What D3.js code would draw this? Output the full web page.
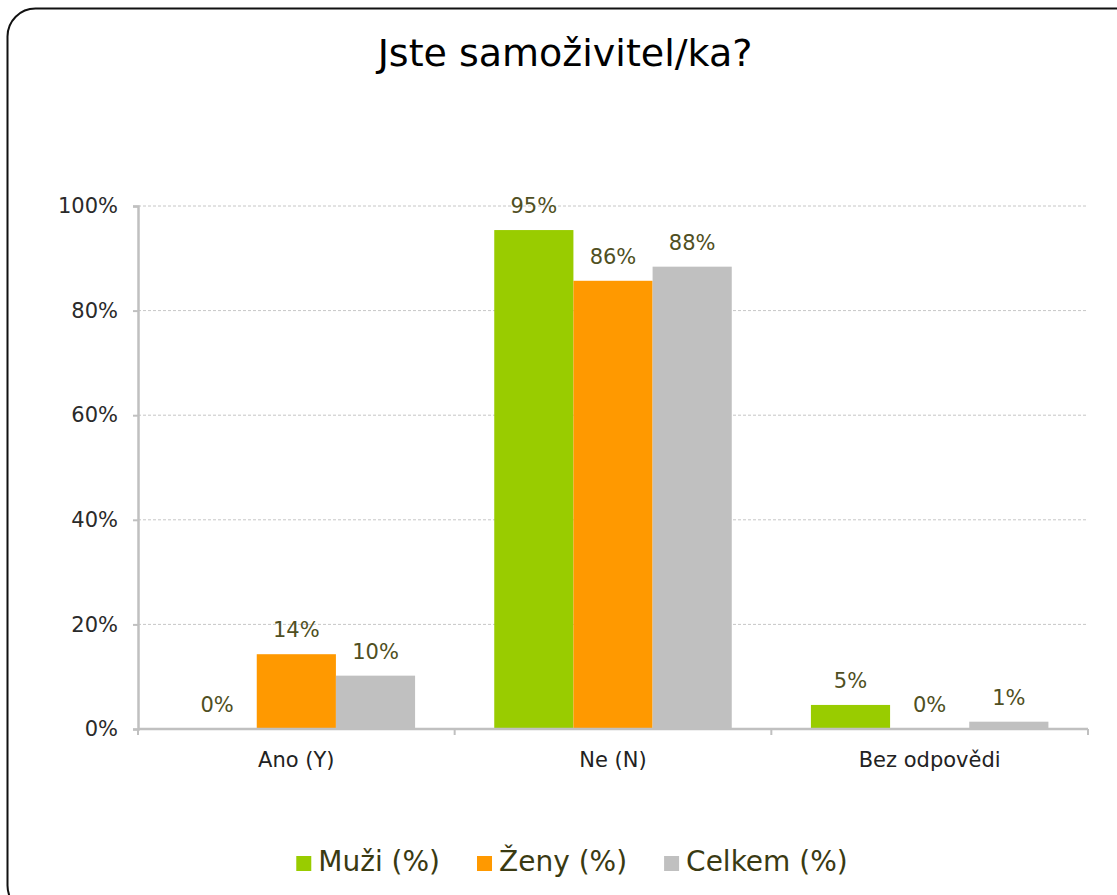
<!DOCTYPE html>
<html>
<head>
<meta charset="utf-8">
<script src="https://cdn.jsdelivr.net/npm/d3@7"></script>
<style>
  body { margin: 0; background: #fff; }
  svg { display: block; font-family: "DejaVu Sans", Verdana, sans-serif; }
</style>
</head>
<body>
<div id="chart"></div>
<script>
// chart data
const title = "Jste samoživitel/ka?";
const categories = ["Ano (Y)", "Ne (N)", "Bez odpovědi"];
const seriesNames = ["Muži (%)", "Ženy (%)", "Celkem (%)"];
const muzi = [0, 95.4, 4.6];
const zeny = [14.3, 85.7, 0];
const celkem = [10.2, 88.4, 1.4];
const yTicks = [0, 20, 40, 60, 80, 100];
const colors = ["#99cc00", "#ff9900", "#c0c0c0"];

const seriesValues = [muzi, zeny, celkem];

const width = 1117, height = 895;
const margin = { top: 206, right: 29, bottom: 166, left: 138 };
const plotW = width - margin.left - margin.right;
const plotH = height - margin.top - margin.bottom;

const svg = d3.select("#chart").append("svg")
    .attr("width", width)
    .attr("height", height);

// outer frame with rounded corners (cut off at right / bottom)
svg.append("rect")
    .attr("x", 7.5).attr("y", 8.5)
    .attr("width", 1140).attr("height", 905)
    .attr("rx", 28).attr("ry", 28)
    .attr("fill", "#fff")
    .attr("stroke", "#111")
    .attr("stroke-width", 2);

svg.append("text")
    .attr("x", 565).attr("y", 66)
    .attr("text-anchor", "middle")
    .attr("font-size", 38)
    .attr("fill", "#000")
    .text(title);

const g = svg.append("g")
    .attr("transform", "translate(" + margin.left + "," + margin.top + ")");

const x0 = d3.scaleBand()
    .domain(categories)
    .range([0, plotW]);

const x1 = d3.scaleBand()
    .domain(seriesNames)
    .range([x0.bandwidth() * 0.125, x0.bandwidth() * 0.875]);

const y = d3.scaleLinear()
    .domain([0, 100])
    .range([plotH, 0]);

// gridlines
g.selectAll(".grid")
  .data(yTicks.filter(d => d > 0))
  .enter().append("line")
    .attr("class", "grid")
    .attr("x1", 0).attr("x2", plotW)
    .attr("y1", d => y(d)).attr("y2", d => y(d))
    .attr("stroke", "#c6c6c6")
    .attr("stroke-width", 1)
    .attr("stroke-dasharray", "3,2");

// y axis
const yAxis = d3.axisLeft(y)
    .tickValues(yTicks)
    .tickSize(5)
    .tickPadding(15)
    .tickFormat(d => d + "%");

const yAxisG = g.append("g").call(yAxis);
yAxisG.select(".domain").attr("stroke", "#c0c0c0").attr("stroke-width", 2.5);
yAxisG.selectAll(".tick line").attr("stroke", "#c0c0c0").attr("stroke-width", 2);
yAxisG.selectAll(".tick text")
    .attr("font-size", 21)
    .attr("fill", "#2a2a2a")
    .attr("font-family", "DejaVu Sans, Verdana, sans-serif");

// bars
const rows = categories.map((c, i) => ({
  category: c,
  values: seriesNames.map((s, j) => ({ series: s, value: seriesValues[j][i], color: colors[j] }))
}));

const groups = g.selectAll(".group")
  .data(rows)
  .enter().append("g")
    .attr("class", "group")
    .attr("transform", d => "translate(" + x0(d.category) + ",0)");

groups.selectAll("rect")
  .data(d => d.values)
  .enter().append("rect")
    .attr("x", d => x1(d.series))
    .attr("y", d => y(d.value))
    .attr("width", x1.bandwidth())
    .attr("height", d => plotH - y(d.value))
    .attr("fill", d => d.color);

groups.selectAll(".lbl")
  .data(d => d.values)
  .enter().append("text")
    .attr("class", "lbl")
    .attr("x", d => x1(d.series) + x1.bandwidth() / 2)
    .attr("y", d => y(d.value) - 17)
    .attr("text-anchor", "middle")
    .attr("font-size", 21)
    .attr("fill", "#4f4f22")
    .text(d => Math.round(d.value) + "%");

// x axis
const xAxisG = g.append("g")
    .attr("transform", "translate(0," + plotH + ")");

xAxisG.append("line")
    .attr("x1", 0).attr("x2", plotW)
    .attr("stroke", "#c0c0c0")
    .attr("stroke-width", 2.5);

xAxisG.selectAll(".xtick")
  .data(d3.range(categories.length + 1))
  .enter().append("line")
    .attr("class", "xtick")
    .attr("x1", i => i * x0.step())
    .attr("x2", i => i * x0.step())
    .attr("y1", 0).attr("y2", 6)
    .attr("stroke", "#c0c0c0")
    .attr("stroke-width", 2);

xAxisG.selectAll(".xlabel")
  .data(categories)
  .enter().append("text")
    .attr("class", "xlabel")
    .attr("x", d => x0(d) + x0.bandwidth() / 2)
    .attr("y", 38)
    .attr("text-anchor", "middle")
    .attr("font-size", 21)
    .attr("fill", "#222")
    .text(d => d);

// legend
const legend = svg.append("g");
const legendItems = legend.selectAll(".leg")
  .data(seriesNames)
  .enter().append("g")
    .attr("class", "leg");

legendItems.append("rect")
    .attr("x", 0).attr("y", -15)
    .attr("width", 15).attr("height", 15)
    .attr("fill", (d, i) => colors[i]);

legendItems.append("text")
    .attr("x", 22).attr("y", 0)
    .attr("font-size", 28)
    .attr("fill", "#3a3a12")
    .text(d => d);

let cursor = 0;
legendItems.each(function() {
  const item = d3.select(this);
  const w = 22 + item.select("text").node().getComputedTextLength();
  item.attr("transform", "translate(" + cursor + ",0)");
  cursor += w + 37;
});
const legendW = cursor - 37;
legend.attr("transform", "translate(" + (572 - legendW / 2) + ",871)");
</script>
</body>
</html>
